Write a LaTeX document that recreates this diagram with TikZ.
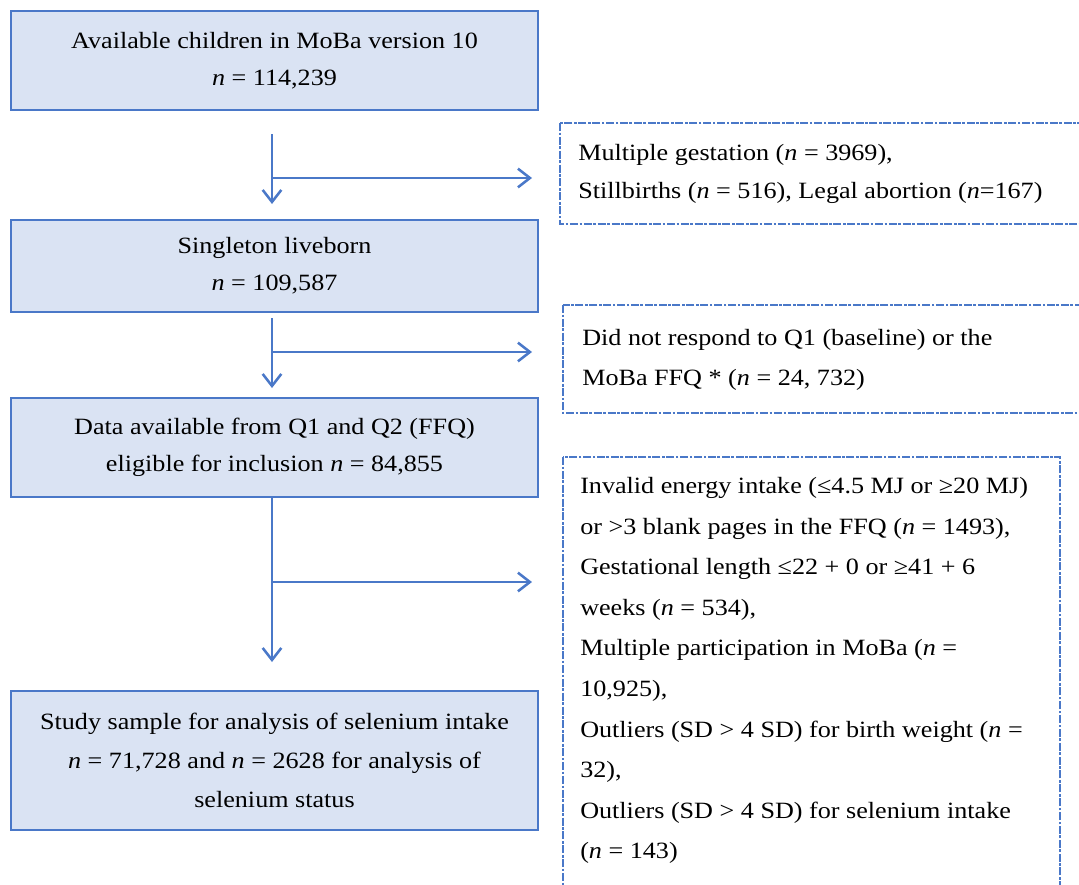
\documentclass[tikz,border=0pt]{standalone}
\usepackage{fontspec}
\setmainfont{Liberation Serif}[FakeStretch=1.12]
\usetikzlibrary{arrows.meta}
\definecolor{boxfill}{HTML}{DAE3F3}
\definecolor{boxline}{HTML}{4A78C8}
\tikzset{
  mainbox/.style={draw=boxline, line width=1.1pt, fill=boxfill, minimum width=395.25pt,
    align=center, inner sep=0pt, font=\fontsize{17.5}{27.5}\selectfont},
  exbox/.style={draw=boxline, line width=0.8pt, dash pattern=on 6pt off 1.2pt on 2pt off 1.2pt},
  extext/.style={align=left, inner sep=0pt, anchor=west, font=\fontsize{17.5}{28.5}\selectfont},
  flow/.style={draw=boxline, line width=1.9pt, -{Straight Barb[length=9pt,width=14pt,line width=1.9pt]}},
  branch/.style={draw=boxline, line width=1.9pt}
}
\begin{document}
\begin{tikzpicture}[x=0.75pt,y=-0.75pt]
\useasboundingbox (0,0) rectangle (1079,885);
\clip (0,0) rectangle (1079,885);
% main boxes
\node[mainbox, minimum height=74.25pt] (b1) at (274.5,60.5)
  {Available children in MoBa version 10\\ \textit{n} = 114,239};
\node[mainbox, minimum height=69pt] (b2) at (274.5,266)
  {Singleton liveborn\\ \textit{n} = 109,587};
\node[mainbox, minimum height=74.25pt] (b3) at (274.5,447.5)
  {Data available from Q1 and Q2 (FFQ)\\ eligible for inclusion \textit{n} = 84,855};
\node[mainbox, minimum height=104.25pt, font=\fontsize{17.5}{29.5}\selectfont] (b4) at (274.5,760.5)
  {Study sample for analysis of selenium intake\\ \textit{n} = 71,728 and \textit{n} = 2628 for analysis of\\ selenium status};
% exclusion boxes
\draw[exbox] (560,123) rectangle (1110,224);
\node[extext] (eA) at (578,173.5)
  {Multiple gestation (\textit{n} = 3969),\\ Stillbirths (\textit{n} = 516), Legal abortion (\textit{n}=167)};
\draw[exbox] (563,305) rectangle (1110,413);
\node[extext, font=\fontsize{17.5}{30}\selectfont] (eB) at (582,360)
  {Did not respond to Q1 (baseline) or the\\ MoBa FFQ * (\textit{n} = 24, 732)};
\draw[exbox] (563,457) rectangle (1060,910);
\node[extext, font=\fontsize{17.5}{30.45}\selectfont] (eC) at (580,670.5)
  {Invalid energy intake (≤4.5 MJ or ≥20 MJ)\\
   or >3 blank pages in the FFQ (\textit{n} = 1493),\\
   Gestational length ≤22 + 0 or ≥41 + 6\\
   weeks (\textit{n} = 534),\\
   Multiple participation in MoBa (\textit{n} =\\
   10,925),\\
   Outliers (SD > 4 SD) for birth weight (\textit{n} =\\
   32),\\
   Outliers (SD > 4 SD) for selenium intake\\
   (\textit{n} = 143)};
% connectors
\coordinate (s1) at (272,134);
\coordinate (e1) at (272,204);
\coordinate (j1) at (272,178);
\coordinate (t1) at (532,178);
\coordinate (s2) at (272,318);
\coordinate (e2) at (272,388);
\coordinate (j2) at (272,352);
\coordinate (t2) at (532,352);
\coordinate (s3) at (272,497);
\coordinate (e3) at (272,662);
\coordinate (j3) at (272,582);
\coordinate (t3) at (532,582);
\draw[flow] (s1) -- (e1);
\draw[flow] (j1) -- (t1);
\draw[flow] (s2) -- (e2);
\draw[flow] (j2) -- (t2);
\draw[flow] (s3) -- (e3);
\draw[flow] (j3) -- (t3);
\end{tikzpicture}
\end{document}
